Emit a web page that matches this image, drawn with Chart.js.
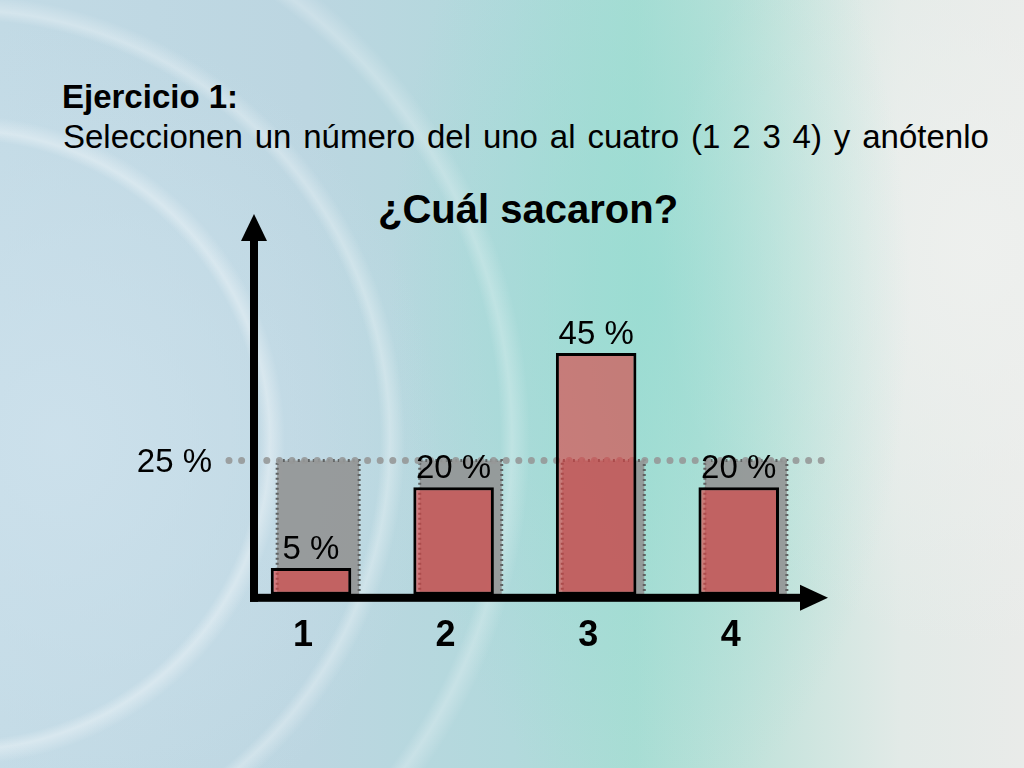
<!DOCTYPE html>
<html>
<head>
<meta charset="utf-8">
<script src="https://cdn.jsdelivr.net/npm/chart.js@4.4.1/dist/chart.umd.min.js"></script>
<style>
  html, body { margin: 0; padding: 0; }
  body {
    width: 1024px; height: 768px; overflow: hidden; position: relative;
    font-family: "Liberation Sans", Arial, sans-serif;
    background:
      radial-gradient(circle at -40px 440px, rgba(255,255,255,0) 0 300px, rgba(255,255,255,0.35) 310px, rgba(255,255,255,0) 325px,
        rgba(255,255,255,0) 420px, rgba(255,255,255,0.3) 430px, rgba(255,255,255,0) 445px,
        rgba(255,255,255,0) 540px, rgba(255,255,255,0.25) 552px, rgba(255,255,255,0) 570px),
      radial-gradient(ellipse 380px 420px at 60px 440px, rgba(205,225,236,0.9), rgba(205,225,236,0) 100%),
      radial-gradient(ellipse 260px 520px at 650px 300px, rgba(150,220,210,0.75), rgba(150,220,210,0) 100%),
      radial-gradient(ellipse 320px 400px at 980px 250px, rgba(238,240,238,0.95), rgba(238,240,238,0) 100%),
      linear-gradient(90deg, #c2dae5 0%, #bcd6e1 30%, #b2d9dc 50%, #a9ddd4 62%, #c5e3dc 75%, #e2eae7 88%, #e9ebe9 100%);
  }
  .txt { position: absolute; color: #000; white-space: nowrap; line-height: 1; }
  #t1 { left: 62px; top: 80px; font-size: 33px; font-weight: bold; }
  #t2 { left: 63px; top: 120px; font-size: 33px; word-spacing: 2.7px; }
  #t3 { left: 378px; top: 189px; font-size: 40px; font-weight: bold; }
  canvas { position: absolute; left: 0; top: 0; }
</style>
</head>
<body>
<div class="txt" id="t1">Ejercicio 1:</div>
<div class="txt" id="t2">Seleccionen un número del uno al cuatro (1 2 3 4) y anótenlo</div>
<div class="txt" id="t3">¿Cuál sacaron?</div>
<canvas id="c" width="1024" height="768"></canvas>
<script>
const categories = ['1', '2', '3', '4'];
const observed = [5, 20, 45, 20];
const expected = [25, 25, 25, 25];
const referenceLevel = 25;
const referenceLabel = '25 %';
const valueLabels = ['5 %', '20 %', '45 %', '20 %'];

const FONT = '"Liberation Sans", Arial, sans-serif';

const setTicks = (scale) => { scale.ticks = categories.map((c, i) => ({ value: i + 1 })); };

const overlayPlugin = {
  id: 'overlay',
  afterDatasetDraw(chart, args) {
    if (args.meta.xAxisID !== 'x2') return;
    const ctx = chart.ctx;
    const y = chart.scales.y;
    ctx.save();
    ctx.strokeStyle = '#5f6262';
    ctx.lineWidth = 3;
    ctx.setLineDash([2, 3]);
    args.meta.data.forEach((bar) => {
      const p = bar.getProps(['x', 'y', 'width', 'base'], true);
      const l = p.x - p.width / 2, r = p.x + p.width / 2;
      ctx.beginPath();
      ctx.moveTo(l, p.base);
      ctx.lineTo(l, p.y);
      ctx.lineTo(r, p.y);
      ctx.lineTo(r, p.base);
      ctx.stroke();
    });
    const yy = y.getPixelForValue(referenceLevel);
    ctx.strokeStyle = 'rgba(150,152,152,0.9)';
    ctx.lineWidth = 7;
    ctx.lineCap = 'round';
    ctx.setLineDash([0, 12.6]);
    ctx.beginPath();
    ctx.moveTo(229, yy);
    ctx.lineTo(828, yy);
    ctx.stroke();
    ctx.restore();
  },
  afterDatasetsDraw(chart) {
    const ctx = chart.ctx;
    const ca = chart.chartArea;
    const y = chart.scales.y;
    ctx.save();
    ctx.fillStyle = '#000';
    ctx.fillRect(ca.left - 4, 239, 8, ca.bottom + 7 - 239);
    ctx.beginPath();
    ctx.moveTo(ca.left - 13, 241);
    ctx.lineTo(ca.left, 214);
    ctx.lineTo(ca.left + 13, 241);
    ctx.closePath();
    ctx.fill();
    ctx.fillRect(ca.left - 4, ca.bottom - 1, 802 - (ca.left - 4), 8);
    ctx.beginPath();
    ctx.moveTo(800, ca.bottom - 10);
    ctx.lineTo(828, ca.bottom + 3);
    ctx.lineTo(800, ca.bottom + 16);
    ctx.closePath();
    ctx.fill();
    ctx.font = '33px ' + FONT;
    ctx.textBaseline = 'alphabetic';
    ctx.textAlign = 'right';
    ctx.fillText(referenceLabel, 212, y.getPixelForValue(referenceLevel) + 12);
    ctx.textAlign = 'center';
    const meta = chart.getDatasetMeta(1);
    meta.data.forEach((bar, i) => {
      ctx.fillText(valueLabels[i], bar.x, bar.y - 9);
    });
    ctx.restore();
  }
};

new Chart(document.getElementById('c'), {
  type: 'bar',
  data: {
    labels: categories,
    datasets: [
      {
        label: 'Esperado',
        data: expected,
        xAxisID: 'x2',
        grouped: false,
        backgroundColor: 'rgba(146,148,148,0.9)',
        borderWidth: 0,
        categoryPercentage: 1,
        barPercentage: 0.575,
        order: 2
      },
      {
        label: 'Resultado',
        data: observed,
        xAxisID: 'x',
        grouped: false,
        backgroundColor: 'rgba(222,60,60,0.6)',
        borderColor: '#000',
        borderWidth: 3,
        borderSkipped: false,
        categoryPercentage: 1,
        barPercentage: 0.565,
        order: 1
      }
    ]
  },
  options: {
    responsive: false,
    animation: false,
    devicePixelRatio: 1,
    layout: { padding: { left: 254, right: 214, top: 240, bottom: 98 } },
    plugins: { legend: { display: false }, tooltip: { enabled: false }, title: { display: false } },
    scales: {
      x: {
        type: 'linear', min: 0.6, max: 4.5, offset: false,
        afterBuildTicks: setTicks,
        grid: { display: false }, border: { display: false },
        ticks: {
          padding: 12, labelOffset: -8, color: '#000', maxRotation: 0, autoSkip: false,
          font: { family: FONT, size: 36, weight: 'bold' },
          callback: (v) => categories[v - 1]
        }
      },
      x2: {
        type: 'linear', min: 0.55, max: 4.45, offset: false, display: false,
        afterBuildTicks: setTicks
      },
      y: { min: 0, max: 66, display: false }
    }
  },
  plugins: [overlayPlugin]
});
</script>
</body>
</html>
